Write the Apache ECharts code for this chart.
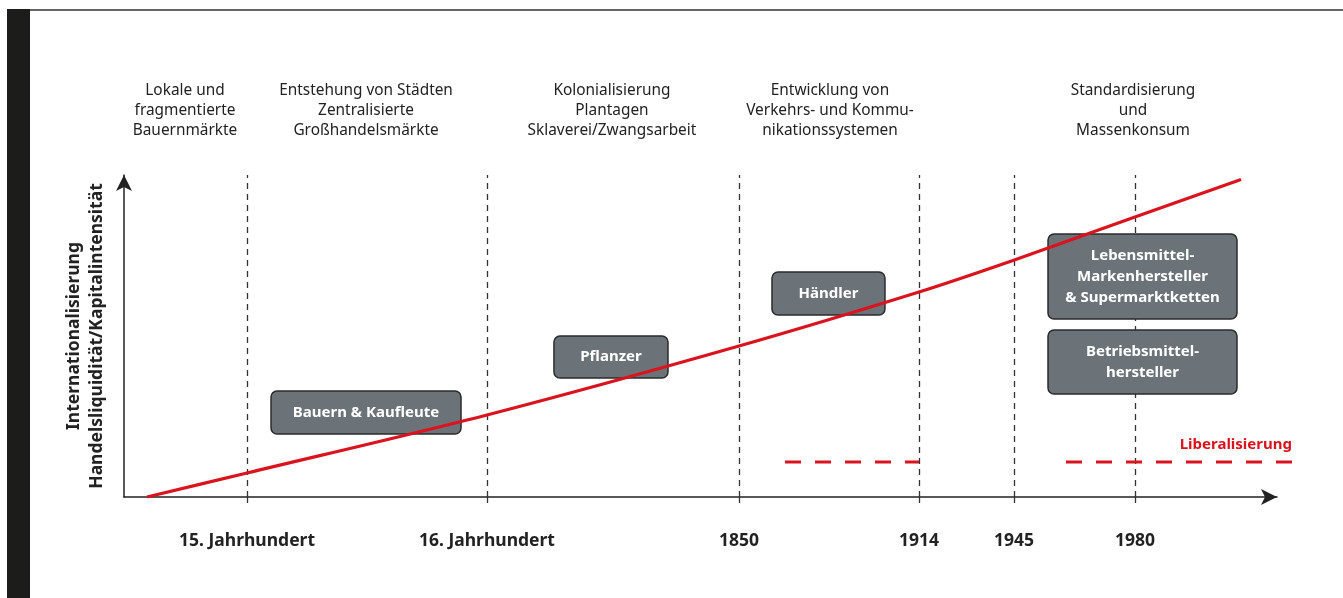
<!DOCTYPE html>
<html>
<head>
<meta charset="utf-8">
<script src="https://cdn.jsdelivr.net/npm/echarts@6/dist/echarts.min.js"></script>
<style>
  html, body { margin: 0; padding: 0; background: #fff; }
  #chart { width: 1343px; height: 598px; }
</style>
</head>
<body>
<div id="chart"></div>
<script>
// relative time axis 0..100, relative intensity axis 0..100
const epochPos = [10.67, 31.48, 53.34, 68.95, 77.19, 87.68];
const epochLabels = ['15. Jahrhundert', '16. Jahrhundert', '1850', '1914', '1945', '1980'];

const phasePos = [5.29, 20.99, 42.32, 61.23, 87.51];
const phaseLabels = [
  'Lokale und\nfragmentierte\nBauernmärkte',
  'Entstehung von Städten\nZentralisierte\nGroßhandelsmärkte',
  'Kolonialisierung\nPlantagen\nSklaverei/Zwangsarbeit',
  'Entwicklung von\nVerkehrs- und Kommu-\nnikationssystemen',
  'Standardisierung\nund\nMassenkonsum'
];

// trend line (x, y)
const trendX = [1.99, 10.67, 31.48, 53.34, 68.95, 77.10, 87.68, 96.88];
const trendY = [0, 7.45, 25.47, 46.89, 63.66, 73.45, 86.96, 98.6];

// actor boxes: x0, x1, y0, y1
const actorLabels = ['Bauern & Kaufleute', 'Pflanzer', 'Händler',
  'Lebensmittel-\nMarkenhersteller\n& Supermarktketten', 'Betriebsmittel-\nhersteller'];
const actorX0 = [12.75, 37.29, 56.20, 80.14, 80.14];
const actorX1 = [29.23, 47.18, 66.00, 96.53, 96.53];
const actorY0 = [19.57, 36.96, 56.52, 55.28, 31.99];
const actorY1 = [32.92, 50.00, 69.88, 81.68, 51.86];

// liberalisation periods: start, end
const liberalY = 10.87;
const liberalStart = [57.33, 81.70];
const liberalEnd = [68.95, 101.3];

const chart = echarts.init(document.getElementById('chart'));

const dark = '#222';
const red = '#d9141e';
const boldFont = 'Noto Sans';

function nearestLabel(v, pos, labels) {
  let best = 0;
  pos.forEach((p, i) => { if (Math.abs(p - v) < Math.abs(pos[best] - v)) best = i; });
  return labels[best];
}

const option = {
  animation: false,
  grid: { left: 124, right: 66, top: 175, bottom: 101 },
  graphic: [
    { type: 'rect', shape: { x: 7, y: 9, width: 23, height: 600 }, style: { fill: '#1c1c1b' } },
    { type: 'line', shape: { x1: 30, y1: 10, x2: 1343, y2: 10 }, style: { stroke: '#333', lineWidth: 1.5 } }
  ],
  xAxis: [
    {
      type: 'value', min: 0, max: 100,
      splitLine: { show: false },
      axisLine: { show: true, lineStyle: { color: dark, width: 1.5 }, symbol: ['none', 'arrow'], symbolSize: [12, 16] },
      axisTick: { show: true, customValues: epochPos, length: 6, inside: false, lineStyle: { color: '#333', width: 1.3 } },
      axisLabel: {
        customValues: epochPos, margin: 35,
        formatter: v => nearestLabel(v, epochPos, epochLabels),
        fontFamily: boldFont, fontWeight: 'bold', fontSize: 17.5, color: dark
      }
    },
    {
      type: 'value', min: 0, max: 100, position: 'top',
      splitLine: { show: false }, axisLine: { show: false }, axisTick: { show: false },
      axisLabel: {
        customValues: phasePos, margin: 34,
        formatter: v => nearestLabel(v, phasePos, phaseLabels),
        fontFamily: 'Noto Sans', fontSize: 15.4, lineHeight: 20, color: dark, align: 'center'
      }
    }
  ],
  yAxis: {
    type: 'value', min: 0, max: 100,
    splitLine: { show: false },
    axisLabel: { show: false },
    axisTick: { show: false },
    axisLine: { show: true, lineStyle: { color: dark, width: 1.5 }, symbol: ['none', 'arrow'], symbolSize: [12, 16] },
    name: 'Internationalisierung\nHandelsliquidität/Kapitalintensität',
    nameLocation: 'middle', nameRotate: 90, nameGap: 15,
    nameTextStyle: { fontFamily: boldFont, fontWeight: 'bold', fontSize: 17.5, lineHeight: 23, color: dark, align: 'center' }
  },
  series: [
    {
      name: 'Epochen', type: 'line', data: [], silent: true,
      markLine: {
        z: 1, silent: true, symbol: 'none', label: { show: false },
        lineStyle: { color: '#333', width: 1.3, type: [6, 5] },
        data: epochPos.map(x => [{ coord: [x, 0] }, { coord: [x, 100] }])
      }
    },
    {
      name: 'Liberalisierung', type: 'custom', z: 2, silent: true,
      data: liberalStart.map((x, i) => [x, liberalEnd[i], liberalY]),
      renderItem: (params, api) => {
        const a = api.coord([api.value(0), api.value(2)]);
        const b = api.coord([api.value(1), api.value(2)]);
        const children = [{
          type: 'line',
          shape: { x1: a[0], y1: a[1], x2: b[0], y2: b[1] },
          style: { stroke: red, lineWidth: 3, lineDash: [16, 14] }
        }];
        if (params.dataIndex === liberalStart.length - 1) {
          children.push({
            type: 'text',
            style: {
              text: 'Liberalisierung', x: b[0], y: b[1] - 17,
              align: 'right', verticalAlign: 'middle',
              fill: red, fontFamily: boldFont, fontWeight: 'bold', fontSize: 15
            }
          });
        }
        return { type: 'group', children };
      }
    },
    {
      name: 'Akteure', type: 'custom', z: 3, silent: true,
      data: actorLabels.map((l, i) => [actorX0[i], actorX1[i], actorY0[i], actorY1[i]]),
      renderItem: (params, api) => {
        const tl = api.coord([api.value(0), api.value(3)]);
        const br = api.coord([api.value(1), api.value(2)]);
        return {
          type: 'group',
          children: [
            {
              type: 'rect',
              shape: { x: tl[0], y: tl[1], width: br[0] - tl[0], height: br[1] - tl[1], r: 6 },
              style: { fill: '#6c7378', stroke: '#2b2b2b', lineWidth: 1.5 }
            },
            {
              type: 'text',
              style: {
                text: actorLabels[params.dataIndex],
                x: (tl[0] + br[0]) / 2, y: (tl[1] + br[1]) / 2,
                align: 'center', verticalAlign: 'middle',
                fill: '#fff', fontFamily: boldFont, fontWeight: 'bold', fontSize: 15, lineHeight: 21
              }
            }
          ]
        };
      }
    },
    {
      name: 'Trend', type: 'line', z: 5, smooth: 0.3, symbol: 'none', silent: true,
      data: trendX.map((x, i) => [x, trendY[i]]),
      lineStyle: { color: red, width: 3.2 }
    }
  ]
};

chart.setOption(option);
</script>
</body>
</html>
